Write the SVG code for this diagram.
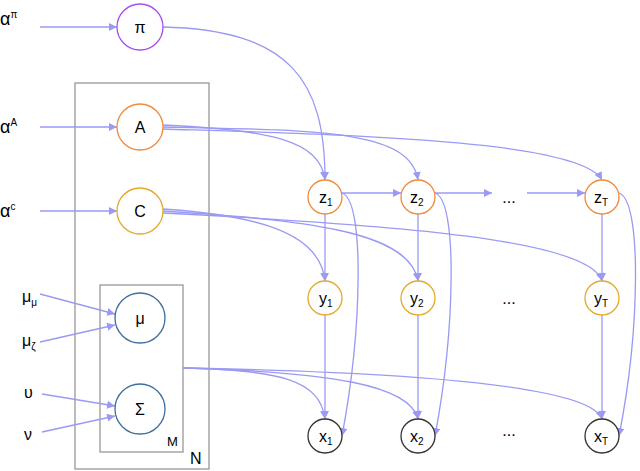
<svg xmlns="http://www.w3.org/2000/svg" width="640" height="471" viewBox="0 0 640 471">
<style>
text{font-family:"Liberation Sans",Arial,sans-serif;font-size:16px;fill:#000}
.e path,.e line{stroke:#9a9af5;stroke-width:1.3;fill:none;marker-end:url(#a)}
.n circle{fill:#fff;stroke-width:1.3}
.f{fill:none;stroke:#999;stroke-width:1.3}
.s{font-size:10px}
.al{font-size:18px}
</style>
<defs><marker id="a" viewBox="0 0 10 10" refX="10" refY="5" markerWidth="8" markerHeight="8" orient="auto" markerUnits="userSpaceOnUse"><path d="M0,0L10,5L0,10z" fill="#9a9af5"/></marker></defs>
<rect class="f" x="75" y="83" width="134" height="386"/>
<rect class="f" x="100" y="285" width="83" height="167"/>
<text x="190" y="464">N</text>
<text x="167" y="446" style="font-size:13px">M</text>
<text class="al" x="0" y="25">α<tspan class="s" dy="-7">π</tspan></text>
<text class="al" x="0" y="133">α<tspan class="s" dy="-7">A</tspan></text>
<text class="al" x="0" y="217">α<tspan class="s" dy="-7">c</tspan></text>
<text x="22" y="302">μ<tspan class="s" dy="4">μ</tspan></text>
<text x="22" y="346">μ<tspan class="s" dy="4">ζ</tspan></text>
<text x="24" y="398">υ</text>
<text x="24" y="440">ν</text>
<g class="e">
<line x1="40" y1="27" x2="117" y2="27"/>
<line x1="40" y1="127" x2="117" y2="127"/>
<line x1="40" y1="211" x2="117" y2="211"/>
<line x1="40" y1="294" x2="115" y2="314"/>
<line x1="40" y1="342" x2="115" y2="325"/>
<line x1="42" y1="394" x2="115" y2="406"/>
<line x1="42" y1="432" x2="115" y2="416"/>
<path d="M163,27C290,30 325,80 325,180"/>
<path d="M163,125C270,130 320,140 325,180"/>
<path d="M163,127C320,130 410,130 418,180"/>
<path d="M163,129C350,135 580,140 602,180"/>
<path d="M163,209C250,215 320,230 325,281"/>
<path d="M163,211C300,220 410,230 418,281"/>
<path d="M163,213C400,225 590,240 602,281"/>
<path d="M183,368C280,370 320,380 325,419"/>
<path d="M183,368C330,372 410,385 418,419"/>
<path d="M183,368C400,372 590,385 602,419"/>
<line x1="342" y1="193" x2="401" y2="193"/>
<line x1="435" y1="193" x2="492" y2="193"/>
<line x1="527" y1="193" x2="585" y2="193"/>
<line x1="325" y1="214" x2="325" y2="281"/>
<line x1="418" y1="214" x2="418" y2="281"/>
<line x1="602" y1="214" x2="602" y2="281"/>
<line x1="325" y1="315" x2="325" y2="419"/>
<line x1="418" y1="315" x2="418" y2="419"/>
<line x1="602" y1="315" x2="602" y2="419"/>
<path d="M342,193C365,200 362,330 342,436"/>
<path d="M435,193C458,200 455,330 435,436"/>
<path d="M619,193C642,200 640,330 619,436"/>
</g>
<g id="pi" class="n"><circle cx="140" cy="27" r="23" stroke="#a64df0"/><text x="140" y="33" text-anchor="middle">π</text></g>
<g id="A" class="n"><circle cx="140" cy="127" r="23" stroke="#f08a3c"/><text x="140" y="133" text-anchor="middle">A</text></g>
<g id="C" class="n"><circle cx="140" cy="211" r="23" stroke="#e5a92a"/><text x="140" y="217" text-anchor="middle">C</text></g>
<g id="mu" class="n"><circle cx="140" cy="318" r="25" stroke="#3c6e9e"/><text x="140" y="324" text-anchor="middle">μ</text></g>
<g id="Sigma" class="n"><circle cx="140" cy="409" r="25" stroke="#3c6e9e"/><text x="140" y="415" text-anchor="middle">Σ</text></g>
<g id="z1" class="n"><circle cx="325" cy="197" r="17" stroke="#f08a3c"/><text x="319" y="203">z<tspan class="s" dy="3">1</tspan></text></g>
<g id="z2" class="n"><circle cx="418" cy="197" r="17" stroke="#f08a3c"/><text x="410" y="203">z<tspan class="s" dy="3">2</tspan></text></g>
<g id="zT" class="n"><circle cx="602" cy="197" r="17" stroke="#f08a3c"/><text x="594" y="203">z<tspan class="s" dy="3">T</tspan></text></g>
<g id="y1" class="n"><circle cx="325" cy="298" r="17" stroke="#e5a92a"/><text x="319" y="304">y<tspan class="s" dy="3">1</tspan></text></g>
<g id="y2" class="n"><circle cx="418" cy="298" r="17" stroke="#e5a92a"/><text x="410" y="304">y<tspan class="s" dy="3">2</tspan></text></g>
<g id="yT" class="n"><circle cx="602" cy="298" r="17" stroke="#e5a92a"/><text x="594" y="304">y<tspan class="s" dy="3">T</tspan></text></g>
<g id="x1" class="n"><circle cx="325" cy="436" r="17" stroke="#333"/><text x="319" y="442">x<tspan class="s" dy="3">1</tspan></text></g>
<g id="x2" class="n"><circle cx="418" cy="436" r="17" stroke="#333"/><text x="410" y="442">x<tspan class="s" dy="3">2</tspan></text></g>
<g id="xT" class="n"><circle cx="602" cy="436" r="17" stroke="#333"/><text x="594" y="442">x<tspan class="s" dy="3">T</tspan></text></g>
<text x="509" y="203" text-anchor="middle">...</text>
<text x="509" y="304" text-anchor="middle">...</text>
<text x="509" y="436" text-anchor="middle">...</text>
</svg>
